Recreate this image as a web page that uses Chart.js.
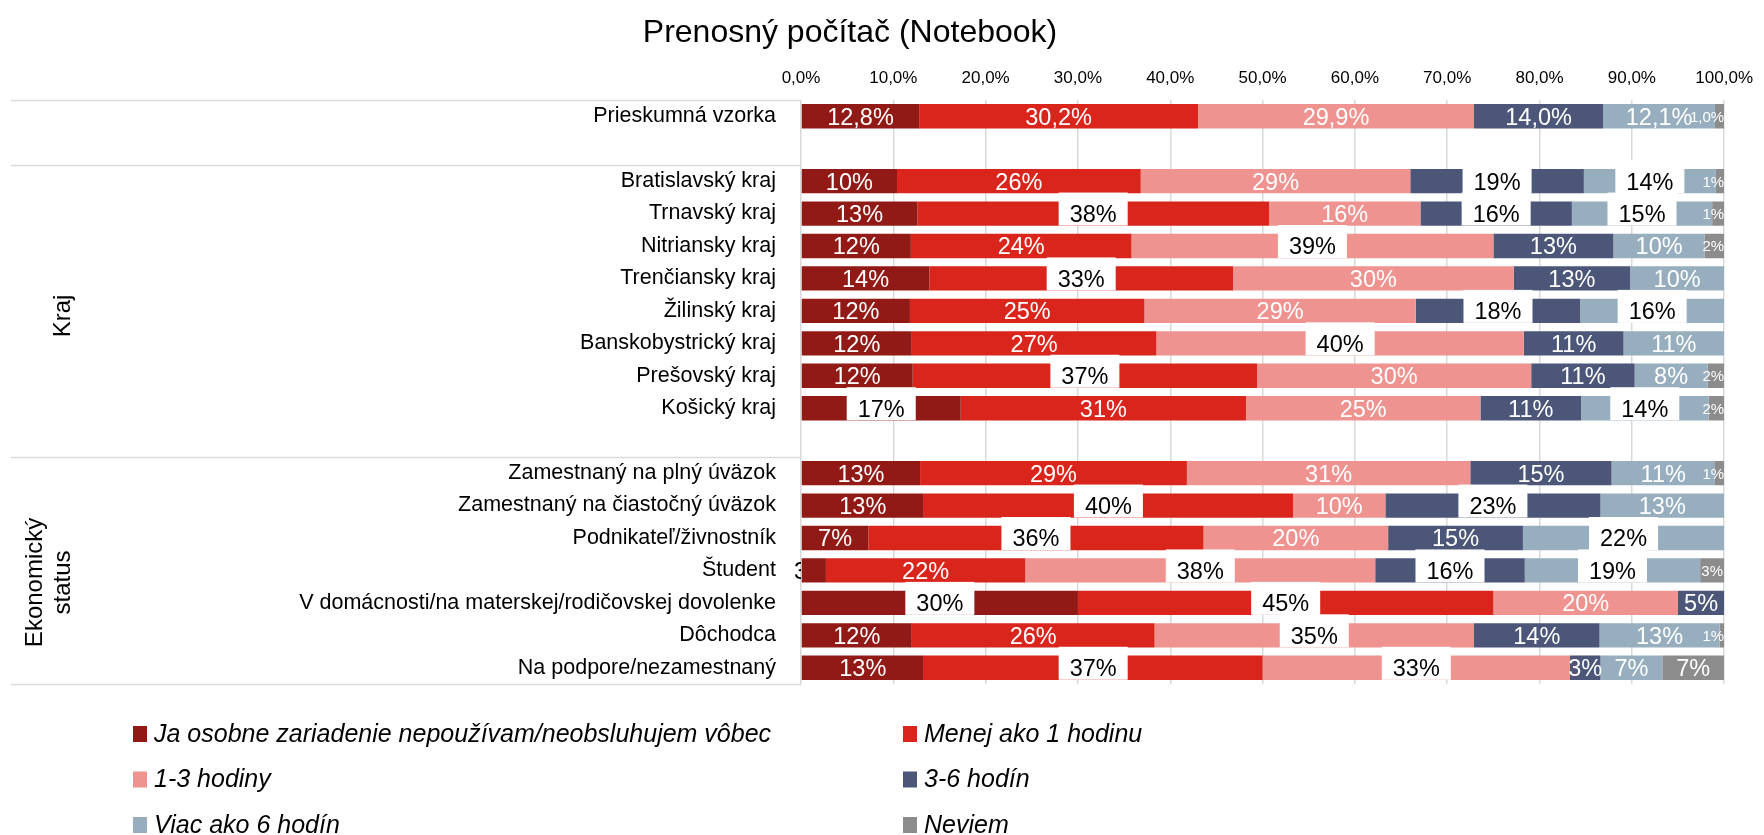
<!DOCTYPE html>
<html lang="sk">
<head>
<meta charset="utf-8">
<title>Prenosný počítač (Notebook)</title>
<script src="https://cdn.jsdelivr.net/npm/chart.js@4.4.1/dist/chart.umd.min.js"></script>
<style>
  html, body { margin: 0; padding: 0; background: #fff; }
  #wrap { width: 1764px; height: 835px; position: relative; }
</style>
</head>
<body>
<div id="wrap"><canvas id="chart"></canvas></div>
<script>
const categories = [
  'Prieskumná vzorka', '',
  'Bratislavský kraj', 'Trnavský kraj', 'Nitriansky kraj', 'Trenčiansky kraj',
  'Žilinský kraj', 'Banskobystrický kraj', 'Prešovský kraj', 'Košický kraj', '',
  'Zamestnaný na plný úväzok', 'Zamestnaný na čiastočný úväzok', 'Podnikateľ/živnostník',
  'Študent', 'V domácnosti/na materskej/rodičovskej dovolenke', 'Dôchodca', 'Na podpore/nezamestnaný'
];

const seriesNames = [
  'Ja osobne zariadenie nepoužívam/neobsluhujem vôbec', 'Menej ako 1 hodinu',
  '1-3 hodiny', '3-6 hodín',
  'Viac ako 6 hodín', 'Neviem'
];
const seriesColors = ['#921a16', '#da251d', '#ee938f', '#4b5679', '#97aebf', '#8c8c8c'];

// percent of respondents, one value per category (null = spacer row)
const nepouzivam = [12.8, null, 10.4, 12.6, 11.9, 13.9, 11.8, 12.0, 12.1, 17.3, null, 12.9, 13.3, 7.3, 2.7, 30, 12.0, 13.3];
const menej1h    = [30.2, null, 26.4, 38.1, 23.9, 32.9, 25.4, 26.5, 37.3, 30.9, null, 28.9, 40.0, 36.3, 21.6, 45, 26.3, 36.7];
const hodiny1_3  = [29.9, null, 29.2, 16.4, 39.2, 30.4, 29.4, 39.8, 29.7, 25.4, null, 30.7, 10.0, 20.0, 37.9, 20, 34.6, 33.3];
const hodin3_6   = [14.0, null, 18.8, 16.4, 13.0, 12.6, 17.8, 10.8, 11.2, 10.9, null, 15.3, 23.3, 14.6, 16.2, 5, 13.6, 3.3];
const viac6h     = [12.1, null, 14.3, 15.2, 9.9, 10.2, 15.6, 10.9, 7.9, 13.8, null, 11.2, 13.4, 21.8, 19.0, 0, 13.0, 6.7];
const neviem     = [1.0, null, 0.9, 1.3, 2.1, 0, 0, 0, 1.8, 1.7, null, 1.0, 0, 0, 2.6, 0, 0.5, 6.7];

const xTickLabels = ['0,0%', '10,0%', '20,0%', '30,0%', '40,0%', '50,0%', '60,0%', '70,0%', '80,0%', '90,0%', '100,0%'];

// [row, series] of labels shown black on a white box
const boxedLabels = [
  [2, 3], [2, 4], [3, 1], [3, 3], [3, 4], [4, 2], [5, 1], [6, 3], [6, 4], [7, 2],
  [8, 1], [9, 0], [9, 4], [12, 1], [12, 3], [13, 1], [13, 4], [14, 2], [14, 3], [14, 4],
  [15, 0], [15, 1], [16, 2], [17, 1], [17, 2]
];
// label pushed outside the plot on the left and cut off by it
const cutLabels = [[14, 0]];

const groups = [
  { lines: ['Kraj'], from: 2, to: 11, shift: 5 },
  { lines: ['Ekonomický', 'status'], from: 11, to: 18, shift: 12 }
];
const groupBreaks = [0, 2, 11, 18];

const FONT = '"Liberation Sans", Arial, sans-serif';
const has = (list, r, s) => list.some(([a, b]) => a === r && b === s);

const titlePlugin = {
  id: 'titleText',
  afterDraw(chart) {
    const ctx = chart.ctx;
    ctx.save();
    ctx.font = '32px ' + FONT;
    ctx.fillStyle = '#000';
    ctx.textAlign = 'center';
    ctx.textBaseline = 'alphabetic';
    ctx.fillText('Prenosný počítač (Notebook)', 850, 42);
    ctx.restore();
  }
};

const groupPlugin = {
  id: 'groups',
  afterDraw(chart) {
    const ctx = chart.ctx, area = chart.chartArea;
    const step = (area.bottom - area.top) / categories.length;
    ctx.save();
    ctx.strokeStyle = '#d9d9d9';
    ctx.lineWidth = 1.5;
    groupBreaks.forEach((k) => {
      const py = Math.round(area.top + k * step) + 0.5;
      ctx.beginPath();
      ctx.moveTo(11, py);
      ctx.lineTo(area.left, py);
      ctx.stroke();
    });
    ctx.fillStyle = '#000';
    ctx.font = '24px ' + FONT;
    ctx.textAlign = 'center';
    ctx.textBaseline = 'alphabetic';
    groups.forEach((g) => {
      const cy = area.top + (g.from + g.to) / 2 * step + g.shift;
      g.lines.forEach((line, i) => {
        const bx = 70 - (g.lines.length - 1 - i) * 28;
        ctx.save();
        ctx.translate(bx, cy);
        ctx.rotate(-Math.PI / 2);
        ctx.fillText(line, 0, 0);
        ctx.restore();
      });
    });
    ctx.restore();
  }
};

const labelPlugin = {
  id: 'segLabels',
  afterDatasetsDraw(chart) {
    const ctx = chart.ctx, area = chart.chartArea;
    chart.data.datasets.forEach((ds, si) => {
      const meta = chart.getDatasetMeta(si);
      meta.data.forEach((bar, ri) => {
        const v = ds.data[ri];
        if (!v) return;
        const text = ri === 0 ? v.toFixed(1).replace('.', ',') + '%' : Math.round(v) + '%';
        const small = si === 5 && v < 5;
        const size = small ? 15 : 23.5;
        ctx.save();
        ctx.font = size + 'px ' + FONT;
        const w = ctx.measureText(text).width;
        let cx = (bar.x + bar.base) / 2;
        if (cx + w / 2 > area.right) cx = area.right - w / 2;
        const cy = bar.y;
        const by = cy + size * 0.36;
        if (has(cutLabels, ri, si)) {
          ctx.beginPath();
          ctx.rect(0, area.top, area.left, area.bottom - area.top);
          ctx.clip();
          ctx.fillStyle = '#000';
          ctx.textAlign = 'left';
          ctx.fillText(text, area.left - 7, by);
        } else if (has(boxedLabels, ri, si)) {
          ctx.fillStyle = '#fff';
          ctx.fillRect(cx - w / 2 - 11, cy - 21, w + 22, 33);
          ctx.fillStyle = '#000';
          ctx.textAlign = 'center';
          ctx.fillText(text, cx, by);
        } else {
          ctx.fillStyle = '#fff';
          ctx.textAlign = 'center';
          ctx.fillText(text, cx, by);
        }
        ctx.restore();
      });
    });
  }
};

const legendPlugin = {
  id: 'legendGrid',
  afterDraw(chart) {
    const ctx = chart.ctx, area = chart.chartArea;
    ctx.save();
    ctx.font = 'italic 25px ' + FONT;
    ctx.textBaseline = 'middle';
    ctx.textAlign = 'left';
    chart.data.datasets.forEach((ds, i) => {
      const x = i % 2 === 0 ? 133 : 903;
      const cy = area.bottom + 50 + Math.floor(i / 2) * 45.5;
      ctx.fillStyle = ds.backgroundColor;
      ctx.fillRect(x, cy - 8, 14, 16);
      ctx.fillStyle = '#000';
      ctx.fillText(ds.label, x + 21, cy + 1);
    });
    ctx.restore();
  }
};

const seriesData = [nepouzivam, menej1h, hodiny1_3, hodin3_6, viac6h, neviem];

new Chart(document.getElementById('chart'), {
  type: 'bar',
  data: {
    labels: categories,
    datasets: seriesData.map((d, i) => ({
      label: seriesNames[i],
      data: d,
      backgroundColor: seriesColors[i],
      borderWidth: 0,
      barPercentage: 0.75,
      categoryPercentage: 1
    }))
  },
  options: {
    indexAxis: 'y',
    responsive: true,
    maintainAspectRatio: false,
    animation: false,
    layout: { padding: { top: 0, left: 0, right: 34, bottom: 151 } },
    plugins: {
      legend: { display: false },
      title: { display: false },
      tooltip: { enabled: false }
    },
    scales: {
      x: {
        stacked: true,
        position: 'top',
        min: 0,
        max: 100,
        ticks: {
          stepSize: 10,
          padding: 11,
          color: '#000',
          font: { family: FONT, size: 17 },
          callback: (v, i) => xTickLabels[i]
        },
        grid: { color: '#d9d9d9', lineWidth: 1.5, drawTicks: false },
        border: { display: false },
        afterFit: (s) => { s.height = 100; }
      },
      y: {
        stacked: true,
        ticks: {
          autoSkip: false,
          padding: 25,
          color: '#000',
          font: { family: FONT, size: 21.5 }
        },
        grid: { display: false, drawTicks: false },
        border: { display: false },
        afterFit: (s) => { s.width = 801; }
      }
    }
  },
  plugins: [labelPlugin, groupPlugin, titlePlugin, legendPlugin]
});
</script>
</body>
</html>
